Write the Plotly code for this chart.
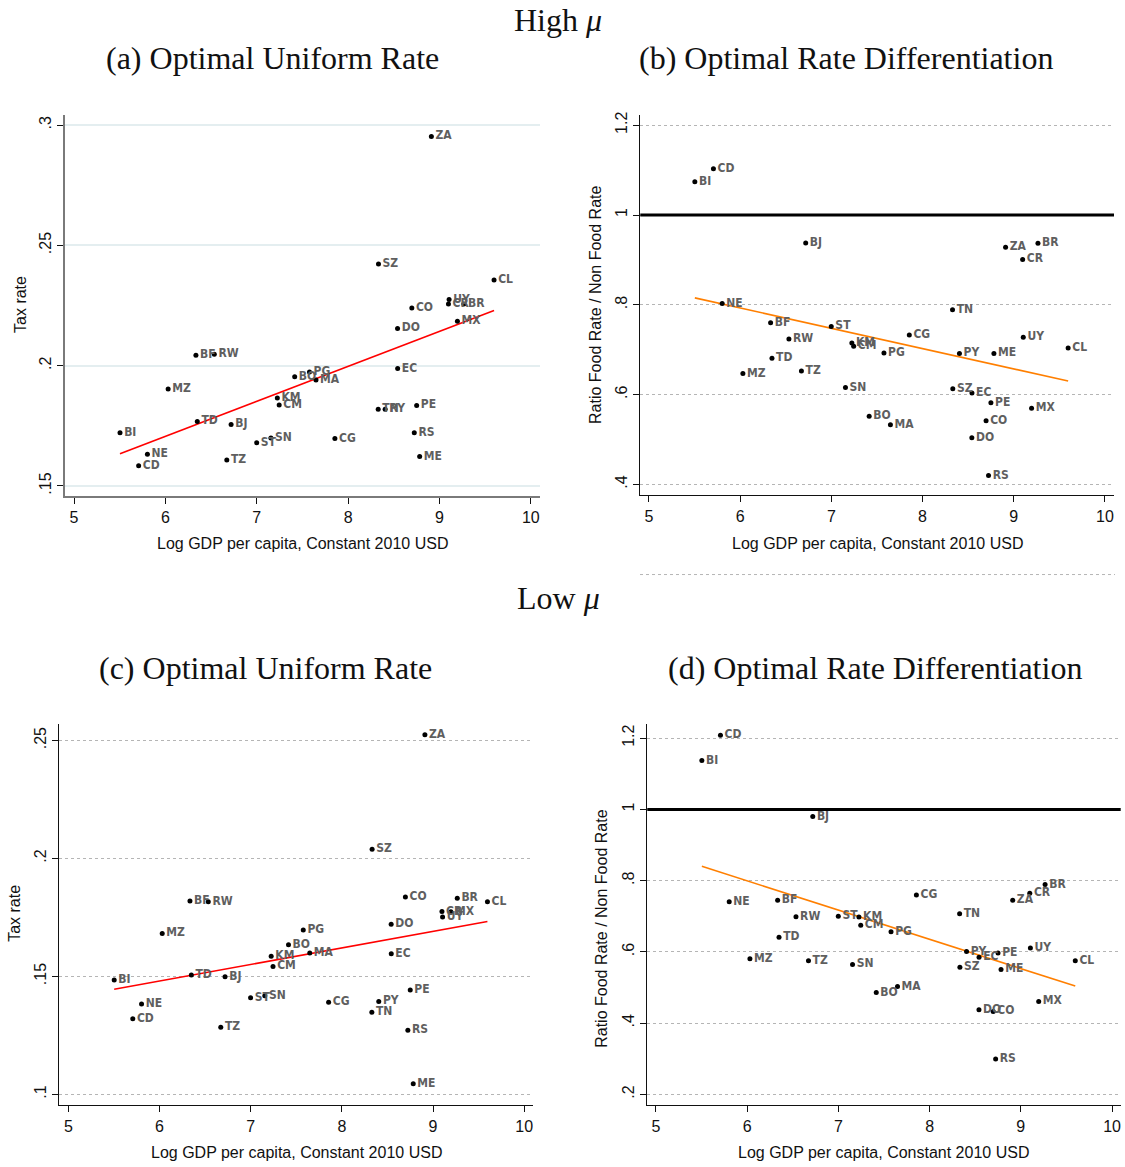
import numpy as np
import plotly.graph_objects as go

# Country codes and log GDP per capita (constant 2010 USD)
countries = ["BI", "CD", "NE", "MZ", "BF", "TD", "RW", "TZ", "BJ", "ST", "SN",
             "KM", "CM", "BO", "PG", "MA", "CG", "TN", "SZ", "PY", "DO", "EC",
             "CO", "RS", "PE", "ME", "ZA", "UY", "CR", "MX", "BR", "CL"]
log_gdp = [5.503, 5.707, 5.803, 6.030, 6.334, 6.349, 6.535, 6.672, 6.719, 6.999, 7.155,
           7.225, 7.245, 7.415, 7.577, 7.648, 7.855, 8.329, 8.332, 8.405, 8.541, 8.542,
           8.697, 8.724, 8.750, 8.783, 8.911, 9.105, 9.098, 9.196, 9.266, 9.597]

# High mu: optimal uniform tax rate
uniform_high = [0.1721, 0.1584, 0.1632, 0.1903, 0.2043, 0.1768, 0.2048, 0.1608, 0.1756, 0.1680, 0.1699,
                0.1866, 0.1837, 0.1954, 0.1974, 0.1941, 0.1697, 0.1819, 0.2423, 0.1819, 0.2155, 0.1988,
                0.2240, 0.1721, 0.1835, 0.1622, 0.2953, 0.2275, 0.2257, 0.2185, 0.2257, 0.2356]
# High mu: ratio of food rate to non-food rate
ratio_high = [1.074, 1.103, 0.803, 0.647, 0.760, 0.681, 0.724, 0.653, 0.938, 0.752, 0.616,
              0.715, 0.708, 0.552, 0.693, 0.533, 0.733, 0.789, 0.613, 0.692, 0.504, 0.604,
              0.542, 0.420, 0.582, 0.692, 0.928, 0.728, 0.901, 0.570, 0.937, 0.704]
# Low mu: optimal uniform tax rate
uniform_low = [0.1485, 0.1320, 0.1383, 0.1682, 0.1820, 0.1506, 0.1816, 0.1284, 0.1499, 0.1410, 0.1418,
               0.1585, 0.1542, 0.1634, 0.1697, 0.1599, 0.1390, 0.1348, 0.2039, 0.1394, 0.1721, 0.1596,
               0.1837, 0.1272, 0.1442, 0.1045, 0.2524, 0.1752, 0.1775, 0.1774, 0.1831, 0.1816]
# Low mu: ratio of food rate to non-food rate
ratio_low = [1.137, 1.208, 0.741, 0.581, 0.745, 0.641, 0.699, 0.575, 0.980, 0.700, 0.565,
             0.698, 0.675, 0.486, 0.657, 0.503, 0.760, 0.707, 0.557, 0.601, 0.4375, 0.585,
             0.433, 0.300, 0.597, 0.551, 0.745, 0.611, 0.765, 0.461, 0.789, 0.575]

x_ticks = [5, 6, 7, 8, 9, 10]
a_ticks, a_text = [0.15, 0.2, 0.25, 0.3], [".15", ".2", ".25", ".3"]
b_ticks, b_text = [0.4, 0.6, 0.8, 1.0, 1.2], [".4", ".6", ".8", "1", "1.2"]
c_ticks, c_text = [0.1, 0.15, 0.2, 0.25], [".1", ".15", ".2", ".25"]
d_ticks, d_text = [0.2, 0.4, 0.6, 0.8, 1.0, 1.2], [".2", ".4", ".6", ".8", "1", "1.2"]

W, H = 1125, 1167
SANS = "Liberation Sans, Arial, sans-serif"
SERIF = "Palatino Linotype, Liberation Serif, DejaVu Serif, serif"
LABEL_FONT = dict(family="Liberation Sans Narrow, DejaVu Sans Condensed, Arial Narrow, sans-serif",
                  size=12, color="#5f5f5f", weight="bold")


def px_x(p):
    return p / W


def px_y(p):
    return 1 - p / H


panels = [
    # key, values, fit colour, x domain px, y domain px, x range, y range, ticks, text, grid style
    ("1", uniform_high, "#ff0000", (65, 540), (111, 494), (4.901, 10.10), (0.1457, 0.3044),
     a_ticks, a_text, "solid"),
    ("2", ratio_high, "#ff7f00", (640.3, 1114), (111.7, 493), (4.905, 10.10), (0.376, 1.222),
     b_ticks, b_text, "dot"),
    ("3", uniform_low, "#ff0000", (59.3, 533.3), (722.7, 1105), (4.901, 10.10), (0.0954, 0.2569),
     c_ticks, c_text, "dot"),
    ("4", ratio_low, "#ff7f00", (647.3, 1120.7), (722.7, 1105), (4.905, 10.095), (0.170, 1.239),
     d_ticks, d_text, "dot"),
]

fig = go.Figure()
layout = {}
xa = np.array(log_gdp)

for key, vals, fit_col, xd, yd, xr, yr, yt, ytt, gstyle in panels:
    xref = "x" if key == "1" else "x" + key
    yref = "y" if key == "1" else "y" + key

    # linear fit of the panel's values on log GDP
    slope, icpt = np.polyfit(xa, np.array(vals), 1)
    fx = np.array([xa.min(), xa.max()])
    fig.add_trace(go.Scatter(x=fx, y=icpt + slope * fx, mode="lines",
                             line=dict(color=fit_col, width=1.6),
                             xaxis=xref, yaxis=yref, showlegend=False, hoverinfo="skip"))

    fig.add_trace(go.Scatter(x=log_gdp, y=vals, mode="markers+text", text=countries,
                             textposition="middle right", textfont=LABEL_FONT,
                             marker=dict(color="black", size=5),
                             xaxis=xref, yaxis=yref, showlegend=False, cliponaxis=False))

    axis_col = "#7a7a7a" if gstyle == "solid" else "#111111"
    grid_col = "#e4eef0" if gstyle == "solid" else "#b5b5b5"
    layout["xaxis" if key == "1" else "xaxis" + key] = dict(
        domain=[px_x(xd[0]), px_x(xd[1])], range=list(xr), anchor=yref,
        tickvals=x_ticks, ticks="outside", ticklen=6, tickcolor="#111111",
        showline=True, linecolor=axis_col, linewidth=1.5 if gstyle == "solid" else 1.2,
        showgrid=False, zeroline=False,
        tickfont=dict(family=SANS, size=16, color="#111111"))
    layout["yaxis" if key == "1" else "yaxis" + key] = dict(
        domain=[px_y(yd[1]), px_y(yd[0])], range=list(yr), anchor=xref,
        tickvals=yt, ticktext=ytt, tickangle=-90, ticks="outside", ticklen=6,
        tickcolor="#111111",
        showline=True, linecolor=axis_col, linewidth=1.5 if gstyle == "solid" else 1.2,
        showgrid=True, gridcolor=grid_col, gridwidth=1.5 if gstyle == "solid" else 1,
        griddash=gstyle, zeroline=False,
        tickfont=dict(family=SANS, size=16, color="#111111"))

shapes = []
# reference line at ratio = 1
for key in ("2", "4"):
    shapes.append(dict(type="line", xref="x" + key + " domain", yref="y" + key,
                       x0=0, x1=1, y0=1, y1=1, line=dict(color="black", width=3)))
# dotted frame edge under panel (b)
shapes.append(dict(type="line", xref="paper", yref="paper",
                   x0=px_x(640), x1=px_x(1115), y0=px_y(572.5), y1=px_y(572.5),
                   line=dict(color="#b5b5b5", width=1, dash="dot")))

annotations = []


def ann(text, xp, yp, size, family, angle=0, color="#111111"):
    annotations.append(dict(text=text, x=px_x(xp), y=px_y(yp), xref="paper", yref="paper",
                            showarrow=False, textangle=angle, xanchor="center", yanchor="middle",
                            font=dict(family=family, size=size, color=color)))


ann("High <i>μ</i>", 558, 16, 32, SERIF)
ann("Low <i>μ</i>", 558, 596, 32, SERIF)
ann("(a) Optimal Uniform Rate", 272, 54, 32, SERIF)
ann("(b) Optimal Rate Differentiation", 846, 54, 32, SERIF)
ann("(c) Optimal Uniform Rate", 265, 666, 32, SERIF)
ann("(d) Optimal Rate Differentiation", 875, 666, 32, SERIF)

xt = "Log GDP per capita, Constant 2010 USD"
ann(xt, 302, 541, 16, SANS)
ann(xt, 877, 541, 16, SANS)
ann(xt, 296, 1152, 16, SANS)
ann(xt, 883, 1152, 16, SANS)
ann("Tax rate", 21, 302, 16, SANS, angle=-90)
ann("Ratio Food Rate / Non Food Rate", 596, 302, 16, SANS, angle=-90)
ann("Tax rate", 15, 913, 16, SANS, angle=-90)
ann("Ratio Food Rate / Non Food Rate", 602, 928, 16, SANS, angle=-90)

fig.update_layout(width=W, height=H, margin=dict(l=0, r=0, t=0, b=0),
                  paper_bgcolor="white", plot_bgcolor="white",
                  shapes=shapes, annotations=annotations, **layout)

fig.write_html("out.html")
